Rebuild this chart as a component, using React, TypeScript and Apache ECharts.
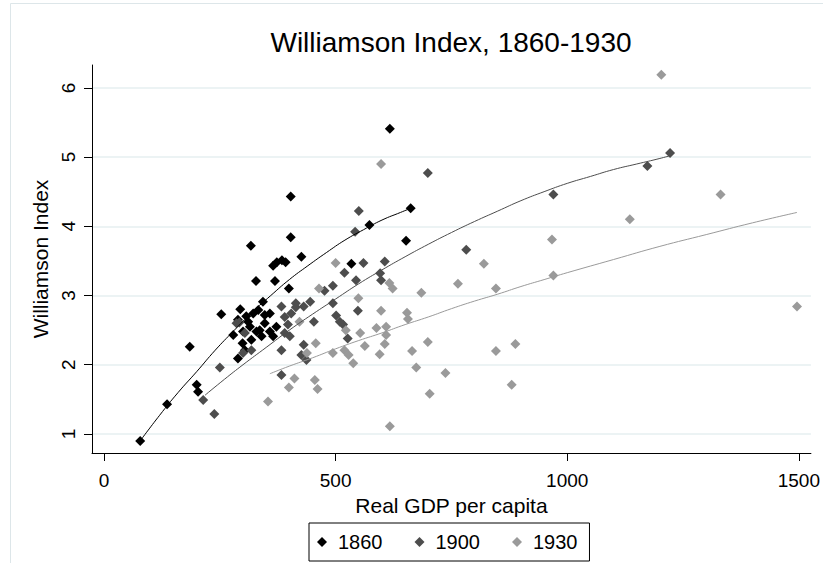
import React, { useEffect, useRef } from 'react';
import * as echarts from 'echarts';

const years = ['1860', '1900', '1930'];
const xTicks = [0, 500, 1000, 1500];
const yTicks = [1, 2, 3, 4, 5, 6];
const titleText = 'Williamson Index, 1860-1930';
const xTitle = 'Real GDP per capita';
const yTitle = 'Williamson Index';

const points1860: number[][] = [
  [78, 0.9], [136, 1.43], [185, 2.26], [200, 1.71], [203, 1.61], [253, 2.73], [279, 2.43], [289, 2.09],
  [289, 2.65], [294, 2.8], [299, 2.31], [300, 2.48], [304, 2.21], [307, 2.7], [311, 2.62], [315, 2.55],
  [317, 3.72], [318, 2.36], [322, 2.74], [328, 3.21], [329, 2.48], [333, 2.79], [336, 2.5], [340, 2.41],
  [343, 2.91], [347, 2.6], [347, 2.72], [358, 2.48], [358, 2.74], [365, 2.41], [365, 3.43], [369, 3.21],
  [372, 2.55], [373, 3.48], [384, 3.51], [392, 3.48], [399, 3.1], [403, 3.84], [403, 4.43], [426, 3.56],
  [534, 3.46], [573, 4.02], [617, 5.41], [652, 3.79], [662, 4.26],
];

const points1900: number[][] = [
  [214, 1.49], [238, 1.29], [250, 1.96], [286, 2.6], [292, 2.61], [300, 2.17], [304, 2.46], [318, 2.21],
  [383, 1.85], [383, 2.21], [383, 2.84], [390, 2.46], [390, 2.69], [397, 2.58], [401, 2.41], [404, 2.74],
  [414, 2.83], [414, 2.89], [426, 2.14], [431, 2.29], [431, 2.84], [437, 2.07], [445, 2.91], [453, 2.62],
  [476, 3.07], [494, 3.14], [494, 2.89], [501, 2.71], [509, 2.62], [516, 2.58], [519, 3.33], [526, 2.38],
  [542, 3.92], [544, 3.22], [548, 2.78], [550, 4.22], [560, 3.47], [596, 3.32], [598, 3.22], [606, 3.49],
  [699, 4.77], [782, 3.66], [970, 4.46], [1173, 4.87], [1222, 5.06],
];

const points1930: number[][] = [
  [354, 1.47], [399, 1.67], [411, 1.8], [422, 2.62], [438, 2.17], [455, 1.78], [457, 2.31], [461, 1.65],
  [464, 3.1], [494, 2.17], [500, 3.47], [519, 2.21], [522, 2.5], [528, 2.14], [538, 2.02], [549, 2.96],
  [553, 2.46], [563, 2.27], [588, 2.53], [595, 2.15], [598, 2.78], [598, 4.9], [606, 2.3], [609, 2.43],
  [609, 2.55], [616, 3.18], [617, 1.11], [623, 3.1], [654, 2.75], [656, 2.66], [665, 2.2], [674, 1.96],
  [685, 3.04], [699, 2.33], [703, 1.58], [737, 1.88], [764, 3.17], [820, 3.46], [846, 3.1], [846, 2.2],
  [880, 1.71], [888, 2.3], [967, 3.81], [970, 3.29], [1135, 4.1], [1203, 6.19], [1331, 4.46], [1496, 2.84],
];

const fit1860: number[][] = [
  [78, 0.9], [120, 1.27], [160, 1.6], [200, 1.9], [240, 2.21], [280, 2.49], [320, 2.76], [360, 3.0],
  [400, 3.23], [440, 3.43], [480, 3.62], [520, 3.8], [560, 3.95], [600, 4.09], [640, 4.2], [662, 4.26],
];

const fit1900: number[][] = [
  [218, 1.56], [260, 1.79], [300, 2.0], [350, 2.25], [400, 2.5], [450, 2.73], [500, 2.95], [550, 3.17],
  [600, 3.37], [650, 3.56], [700, 3.74], [750, 3.91], [800, 4.07], [850, 4.22], [900, 4.37], [950, 4.5],
  [1000, 4.62], [1050, 4.72], [1100, 4.82], [1150, 4.9], [1200, 4.98], [1222, 5.02],
];

const fit1930: number[][] = [
  [358, 1.87], [400, 1.98], [450, 2.1], [500, 2.23], [550, 2.35], [600, 2.46], [650, 2.58], [700, 2.69],
  [750, 2.81], [800, 2.92], [850, 3.02], [900, 3.13], [950, 3.23], [1000, 3.33], [1100, 3.52], [1200, 3.71],
  [1300, 3.88], [1400, 4.05], [1496, 4.2],
];

const colors = ['#000000', '#4d4d4d', '#9a9a9a'];
const FONT = '"Liberation Sans", Arial, Helvetica, sans-serif';

export default function App() {
  const ref = useRef<HTMLDivElement>(null);

  useEffect(() => {
    document.body.style.margin = '0';
    if (!ref.current) return;
    const chart = echarts.init(ref.current, undefined, { renderer: 'svg' });
    const scatterData = [points1860, points1900, points1930];
    const fitData = [fit1860, fit1900, fit1930];

    const option: any = {
      animation: false,
      backgroundColor: '#ffffff',
      textStyle: { fontFamily: FONT },
      graphic: [
        {
          type: 'rect',
          silent: true,
          z: -10,
          shape: { x: 10.5, y: 3.5, width: 840, height: 600 },
          style: { fill: 'none', stroke: '#dde6e9', lineWidth: 1 },
        },
        {
          type: 'text',
          x: 451,
          y: 42,
          style: {
            text: titleText,
            fontSize: 28,
            fontFamily: FONT,
            fill: '#000',
            align: 'center',
            verticalAlign: 'middle',
          },
        },
      ],
      grid: { left: 92, right: 11, top: 65, bottom: 110, containLabel: false },
      xAxis: {
        type: 'value',
        min: -26,
        max: 1526,
        axisLine: { show: true, onZero: false, lineStyle: { color: '#000', width: 1 } },
        axisTick: { show: true, length: 8, customValues: xTicks, lineStyle: { color: '#000', width: 1 } },
        axisLabel: {
          customValues: xTicks,
          fontSize: 19,
          color: '#000',
          margin: 18,
          fontFamily: FONT,
          formatter: (v: number) => String(v),
        },
        splitLine: { show: false },
        name: xTitle,
        nameLocation: 'middle',
        nameGap: 35,
        nameTextStyle: { fontSize: 21, color: '#000', fontFamily: FONT },
      },
      yAxis: {
        type: 'value',
        min: 0.725,
        max: 6.33,
        axisLine: { show: true, onZero: false, lineStyle: { color: '#000', width: 1 } },
        axisTick: { show: true, length: 8, customValues: yTicks, lineStyle: { color: '#000', width: 1 } },
        axisLabel: {
          customValues: yTicks,
          rotate: 90,
          fontSize: 19,
          color: '#000',
          margin: 14,
          fontFamily: FONT,
          formatter: (v: number) => String(v),
        },
        splitLine: { show: true, lineStyle: { color: '#e6eff1', width: 1.5 } },
        name: yTitle,
        nameLocation: 'middle',
        nameRotate: 90,
        nameGap: 40,
        nameTextStyle: { fontSize: 21, color: '#000', fontFamily: FONT },
      },
      legend: {
        data: years.map((y) => ({ name: y, icon: 'diamond' })),
        left: 309,
        top: 523,
        orient: 'horizontal',
        itemWidth: 10,
        itemHeight: 10,
        itemGap: 32,
        padding: [9, 12, 9, 8],
        borderColor: '#000',
        borderWidth: 1,
        backgroundColor: '#fff',
        textStyle: { fontSize: 20, color: '#000', fontFamily: FONT, padding: [0, 0, 0, 6] },
      },
      series: [
        ...years.map((y, i) => ({
          name: y,
          type: 'scatter',
          symbol: 'diamond',
          symbolSize: 10,
          itemStyle: { color: colors[i], opacity: 1 },
          data: scatterData[i],
          z: 2,
        })),
        ...years.map((y, i) => ({
          name: 'fit' + y,
          type: 'line',
          showSymbol: false,
          symbol: 'none',
          smooth: true,
          lineStyle: { color: colors[i], width: 1 },
          itemStyle: { color: colors[i] },
          data: fitData[i],
          z: 3,
        })),
      ],
    };
    chart.setOption(option);
    return () => chart.dispose();
  }, []);

  return <div ref={ref} style={{ width: 823, height: 563 }} />;
}
